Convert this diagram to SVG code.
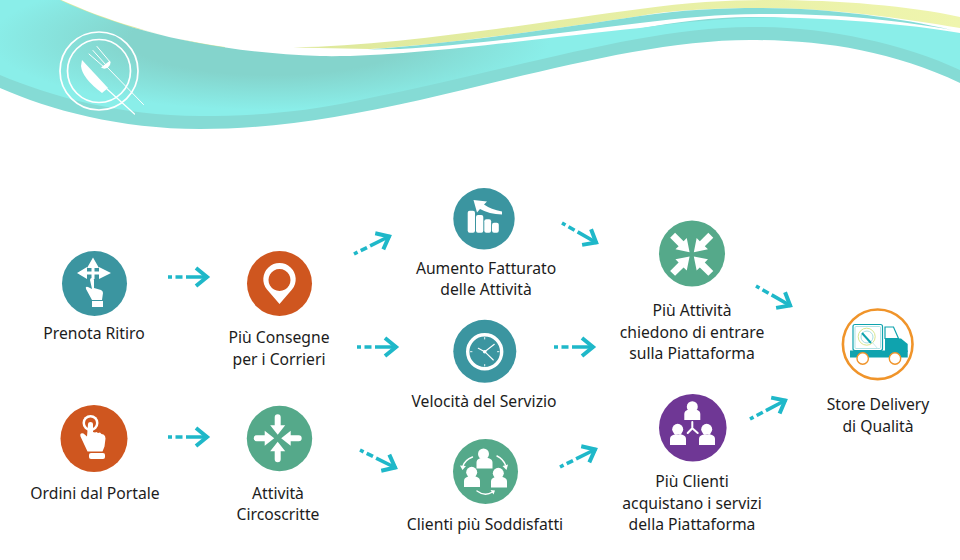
<svg xmlns="http://www.w3.org/2000/svg" width="960" height="560" viewBox="0 0 960 560">
<style>
text{font-family:"Noto Sans","Open Sans","Liberation Sans",sans-serif;font-size:15.700px;fill:#1c1c1c;text-anchor:middle}
.w{fill:#fff}
.wl{fill:none;stroke:#fff;stroke-linecap:round}
.teal{fill:#3b95a0}.org{fill:#cf561f}.grn{fill:#55a98a}.pur{fill:#6f3795}
.c{fill:none;stroke:#1fb8c9;stroke-width:3.600;stroke-dasharray:4 3.500 7 3.500 40;marker-end:url(#head)}
</style>
<defs>
<marker id="head" markerUnits="userSpaceOnUse" markerWidth="20" markerHeight="24" refX="15" refY="12" orient="auto">
<path d="M3 3L14 12L3 21" fill="none" stroke="#1fb8c9" stroke-width="4"/>
</marker>
<radialGradient id="mainG" gradientUnits="userSpaceOnUse" cx="0" cy="0" r="280" gradientTransform="translate(270,40) scale(1,0.25)">
<stop offset="0.5" stop-color="#84d4cc"/><stop offset="1" stop-color="#8aeee9"/>
</radialGradient>
<linearGradient id="yelG" gradientUnits="userSpaceOnUse" x1="320" y1="0" x2="960" y2="0">
<stop offset="0" stop-color="#dfe99c"/><stop offset="1" stop-color="#eff5ae"/>
</linearGradient>
<path id="inA" d="M-3 -21a3 3 0 0 1 6 0v8h4.500L0 -3.500L-7.500 -13H-3z"/>
<path id="inB" d="M-3.500 -27h7v12h4.500L0 -3L-8 -15h4.500z"/>
<path id="person" d="M-8 14v-6q0-3 3-4l3-1q2 2 4 0l3 1q3 1 3 4v6z"/>
</defs>

<g id="banner">
<path d="M58 -1.500C100 18 160 38 225 47L225 50L60 10Z" fill="#dfe99c"/>
<path d="M293 47.500C400 46 540 22 640 9C690 2 730 0 770 0C840 0 910 6 960 17V28C900 18 830 8 760 8C700 8 660 12 640 16C560 28 450 44 370 49Z" fill="url(#yelG)"/>
<path d="M368 49.500C450 44 560 28 640 16C680 10 720 8 760 8C830 8 900 18 952 30C900 20 830 13 760 14C720 14 680 18 640 23C560 33 470 45 400 49Z" fill="#85dcd7"/>
<path d="M0 60C50 84 120 106 200 106C250 106 300 103 360 90C520 58 640 18 750 17C820 16 900 32 960 60V83C890 50 820 40 750 40C650 40 530 75 420 100C340 118 270 129 200 129C120 129 50 110 0 88Z" fill="#85dbd5"/>
<path d="M0 0H60C120 28 205 52 320 56C400 58 540 38 640 28C700 20 750 16 800 18C860 20 920 26 960 33V70C900 42 820 26 750 27C640 28 520 68 360 100C300 113 250 116 200 116C120 116 50 96 0 75Z" fill="url(#mainG)"/>
</g>

<g id="logo">
<circle cx="99" cy="71" r="39" fill="none" stroke="#fff" stroke-width="1.700"/>
<circle cx="99" cy="71" r="31.500" fill="none" stroke="#fff" stroke-width="1.700"/>
<path class="wl" d="M89 54L104 67M93 50.500L106 65M97 46.500L110 62M106 66L143.500 104.500" stroke-width="1"/>
<path class="w" d="M101 67.500a6 6 0 0 0 9 -7z"/>
<path class="w" d="M82 60L108 88L102 93Q82 78 81 66Z"/>
<path class="wl" d="M107 89L134.500 114" stroke-width="1.200"/>
</g>

<g id="connectors">
<path class="c" d="M168 277H208"/>
<path class="c" d="M168 437H208"/>
<path class="c" d="M357 347H397"/>
<path class="c" d="M354 254L390 236"/>
<path class="c" d="M360 450L396 468"/>
<path class="c" d="M562 223L597 243"/>
<path class="c" d="M554 347H594"/>
<path class="c" d="M560 467L596 449"/>
<path class="c" d="M756 286L791 306"/>
<path class="c" d="M750 419L786 400"/>
</g>

<g id="prenota-ritiro">
<circle class="teal" cx="94.500" cy="283.500" r="32.500"/>
<path class="w" d="M77 273L87 267V271.500H91.500V268H87L93 257.500L99 268H94.500V271.500H99V267L111 273L99 279V274.500H94.500V279H91.500V274.500H87V279Z"/>
<path class="w" d="M90 280q0-2 2-2t2 2v8l7 2q2 1 2 3l-1 7h-10l-6-11q-1-3 2-2l4 2z"/>
<rect class="w" x="92" y="301" width="11" height="6"/>
<text x="94" y="339">Prenota Ritiro</text>
</g>

<g id="ordini-dal-portale">
<circle class="org" cx="94" cy="438.500" r="33.500"/>
<circle class="w" cx="90.500" cy="423" r="8"/>
<circle class="org" cx="90.500" cy="423" r="5.500"/>
<path class="w" d="M88 424q0-2 2.500-2t2.500 2v8l2 .5l1.500-.5l1.500 1l2-.5l1.500 1.500l2 .5q2 1 2 4l-1 8l-2 5h-15l-7-15q-1-4 3-3l3.500 3z"/>
<rect class="w" x="89" y="453" width="16" height="6" rx="2"/>
<text x="95" y="499">Ordini dal Portale</text>
</g>

<g id="piu-consegne">
<circle class="org" cx="279.500" cy="283.500" r="32.500"/>
<path class="w" fill-rule="evenodd" d="M279.500 304L267 289.500a16.200 16.200 0 1 1 25 0ZM279.500 269a11 11 0 1 0 .01 0Z"/>
<text x="279" y="343">Più Consegne</text>
<text x="279" y="365">per i Corrieri</text>
</g>

<g id="attivita-circoscritte">
<circle class="grn" cx="279.500" cy="438.500" r="32.700"/>
<g transform="translate(277.700,438.300)">
<use href="#inA" class="w"/>
<use href="#inA" class="w" transform="rotate(90)"/>
<use href="#inA" class="w" transform="rotate(180)"/>
<use href="#inA" class="w" transform="rotate(270)"/>
</g>
<text x="278" y="499">Attività</text>
<text x="278" y="520">Circoscritte</text>
</g>

<g id="aumento-fatturato">
<circle class="teal" cx="484" cy="218.800" r="30.700"/>
<rect class="w" x="467.700" y="210.700" width="7.300" height="22" rx="2"/>
<rect class="w" x="476" y="215" width="7.300" height="17.700" rx="2"/>
<rect class="w" x="484.300" y="219.300" width="6.800" height="13.400" rx="2"/>
<rect class="w" x="492" y="222.700" width="6.800" height="10" rx="2"/>
<path class="w" d="M473.500 200L487 201.500L484 204.500Q491 209.500 502 211.500V214.500Q489 214 480 209L477 212.500Z"/>
<text x="486" y="274">Aumento Fatturato</text>
<text x="486" y="295">delle Attività</text>
</g>

<g id="velocita-servizio">
<circle class="teal" cx="484.800" cy="351.300" r="31.500"/>
<circle cx="484.700" cy="351.700" r="17" fill="none" stroke="#fff" stroke-width="3.400"/>
<circle class="w" cx="484.700" cy="351.700" r="1.800"/>
<path class="wl" d="M484.700 351.700L494.300 344.300M484.700 351.700L478.300 348.300M484.700 351.700L493.300 360" stroke-width="1.100"/>
<path class="wl" d="M484.700 337.500v1.500M484.700 364.500v1.500M470.500 351.700h1.500M497.500 351.700h1.500" stroke-width="0.900"/>
<text x="484" y="407">Velocità del Servizio</text>
</g>

<g id="clienti-soddisfatti">
<circle class="grn" cx="485.500" cy="471.500" r="32.500"/>
<circle class="w" cx="483.500" cy="454" r="5.500"/><use href="#person" class="w" x="484.500" y="454.500"/>
<circle class="w" cx="471.700" cy="472.300" r="5.500"/><use href="#person" class="w" x="472" y="473"/>
<circle class="w" cx="498.300" cy="473.300" r="5.500"/><use href="#person" class="w" x="499" y="473.500"/>
<path class="wl" d="M472.500 457Q465 460 463 466M497 456Q503 459 505.500 465M477 491Q485 497 492.500 492" stroke-width="1.400"/>
<path class="w" d="M460 465.500L466 466L462.500 470ZM502.500 466L508 464.500L506.500 470ZM490.500 490L495 490.500L493.500 494.500Z"/>
<text x="485" y="530">Clienti più Soddisfatti</text>
</g>

<g id="piu-attivita">
<circle class="grn" cx="692" cy="253.500" r="33"/>
<g transform="translate(691.700,254.300)">
<use href="#inB" class="w" transform="rotate(45)"/>
<use href="#inB" class="w" transform="rotate(135)"/>
<use href="#inB" class="w" transform="rotate(225)"/>
<use href="#inB" class="w" transform="rotate(315)"/>
</g>
<text x="692" y="316">Più Attività</text>
<text x="692" y="338">chiedono di entrare</text>
<text x="692" y="359">sulla Piattaforma</text>
</g>

<g id="piu-clienti">
<circle class="pur" cx="692.800" cy="427.800" r="33.800"/>
<circle class="w" cx="692.300" cy="406.700" r="5.500"/><use href="#person" class="w" x="692.300" y="406"/>
<circle class="w" cx="677.700" cy="429.300" r="5.500"/><use href="#person" class="w" x="678" y="431"/>
<circle class="w" cx="706.700" cy="429.300" r="5.500"/><use href="#person" class="w" x="707" y="431"/>
<path class="wl" d="M692.300 422V428.300L687.700 433M692.300 428.300L697.700 433" stroke-width="2"/>
<text x="692" y="487">Più Clienti</text>
<text x="692" y="509">acquistano i servizi</text>
<text x="692" y="530">della Piattaforma</text>
</g>

<g id="store-delivery">
<circle cx="877.700" cy="344.300" r="34.800" fill="#fff" stroke="#f0942a" stroke-width="2.600"/>
<rect x="853" y="324.500" width="29.500" height="26" rx="2" fill="#fff" stroke="#0fa3ae" stroke-width="1.200"/>
<rect x="855" y="326.500" width="25.500" height="22" rx="1" fill="none" stroke="#8fd6da" stroke-width="0.700"/>
<circle cx="866.700" cy="336.700" r="8.500" fill="none" stroke="#d9e68f" stroke-width="1"/>
<circle cx="867" cy="337" r="6" fill="none" stroke="#a7dfe0" stroke-width="1"/>
<path d="M862 333L871 343" stroke="#0fa3ae" stroke-width="2" fill="none"/>
<path d="M872 342L878 349" stroke="#bfe4e6" stroke-width="0.800" fill="none"/>
<path d="M885 327H893.500L898.500 338.500H885Z" fill="#fff" stroke="#0fa3ae" stroke-width="1.200"/>
<path d="M885 338.500H901L907.700 344V352H885Z" fill="#0fa3ae"/>
<rect x="850" y="350.500" width="57.700" height="7" fill="#0fa3ae"/>
<circle cx="862.700" cy="358.500" r="5.700" fill="#fff" stroke="#f0942a" stroke-width="1.400"/>
<circle cx="895" cy="358.500" r="5.700" fill="#fff" stroke="#f0942a" stroke-width="1.400"/>
<text x="878" y="410">Store Delivery</text>
<text x="878" y="432">di Qualità</text>
</g>
</svg>
